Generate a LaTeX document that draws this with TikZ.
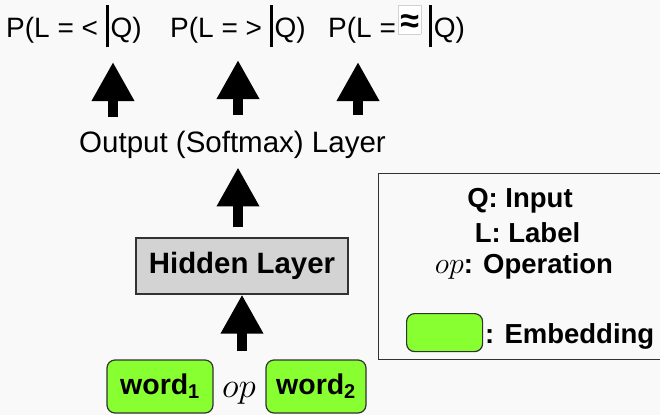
\RequirePackage{fix-cm}
\documentclass[tikz,border=0pt]{standalone}
\usepackage{fontspec}
\setmainfont{Liberation Sans}
\usetikzlibrary{arrows.meta}
\definecolor{bg}{RGB}{249,249,249}
\definecolor{emb}{RGB}{136,255,48}
\definecolor{hid}{RGB}{211,211,211}
\definecolor{edge}{RGB}{50,50,50}
\tikzset{
  bigarrow/.style={line width=10pt, -{Triangle[length=39pt,width=40pt]}},
  toplbl/.style={font=\fontsize{28}{34}\selectfont, inner sep=0pt, anchor=base west},
  embbox/.style={draw=edge, line width=1.2pt, fill=emb, rounded corners=8pt, inner sep=0pt},
  legtxt/.style={font=\fontsize{27.5}{33}\selectfont\bfseries, inner sep=0pt, anchor=base},
}
\newcommand{\condbar}{\hspace{7.5pt}\rule[-10pt]{3pt}{42pt}\hspace{2pt}}
\begin{document}
\begin{tikzpicture}[x=1pt,y=-1pt]
\useasboundingbox (0,0) rectangle (660,415);
\clip (0,0) rectangle (660,415);
\fill[bg] (0,0) rectangle (660,415);

% top labels
\node[toplbl] (l1) at (6,37) {P(L = <\condbar Q)};
\node[toplbl] (l2) at (170,37) {P(L = >\condbar Q)};
\setlength{\fboxsep}{2pt}\setlength{\fboxrule}{0.7pt}
\node[toplbl] (l3) at (328,37) {P(L =\hspace{2pt}\raisebox{5pt}{\fcolorbox{gray!35}{white}{\makebox[18pt]{\rule{0pt}{24.5pt}{\fontsize{34}{34}\selectfont\bfseries ≈}}}}\condbar Q)};

% output layer
\node[font=\fontsize{29.5}{35}\selectfont, inner sep=0pt, anchor=base] (outl) at (232.5,152) {Output (Softmax) Layer};

\coordinate (a1s) at (113,117); \coordinate (a1e) at (113,62);
\coordinate (a2s) at (238,115); \coordinate (a2e) at (238,60);
\coordinate (a3s) at (358,115); \coordinate (a3e) at (358,62);
\draw[bigarrow] (a1s) -- (a1e);
\draw[bigarrow] (a2s) -- (a2e);
\draw[bigarrow] (a3s) -- (a3e);

% hidden layer
\node[draw=edge, line width=1.2pt, fill=hid, minimum width=212pt, minimum height=56pt, inner sep=0pt,
      font=\fontsize{29.4}{35}\selectfont\bfseries] (hid) at (242,266) {Hidden Layer};
\draw[bigarrow] ([xshift=-4pt,yshift=10pt]hid.north) -- ([xshift=-4pt,yshift=70pt]hid.north);

% inputs
\node[embbox, minimum width=106pt, minimum height=53pt, font=\fontsize{28.5}{34}\selectfont\bfseries] (w1) at (160,386.5) {word\textsubscript{1}};
\node[embbox, minimum width=100pt, minimum height=53pt, font=\fontsize{28.5}{34}\selectfont\bfseries] (w2) at (316,386.5) {word\textsubscript{2}};
\node[inner sep=0pt, anchor=base, font=\fontsize{35}{40}\selectfont] (op) at (239,397) {$op$};
\draw[bigarrow] ([yshift=-56pt]hid.south) -- (hid.south);

% legend
\node[draw=edge, line width=1.3pt, fill=none, anchor=north west, minimum width=300pt, minimum height=186pt, inner sep=0pt] (leg) at (378,173) {};
\node[legtxt] (lq) at (520,207) {Q: Input};
\node[legtxt] (ll) at (527.5,242) {L: Label};
\node[legtxt] (lo) at (524,273) {{\fontsize{30}{36}\selectfont$op$}: Operation};
\node[embbox, minimum width=76pt, minimum height=38pt, anchor=north west] (le) at (406,313) {};
\node[legtxt, anchor=base west] (lel) at (485,343) {: Embedding};
\end{tikzpicture}
\end{document}
